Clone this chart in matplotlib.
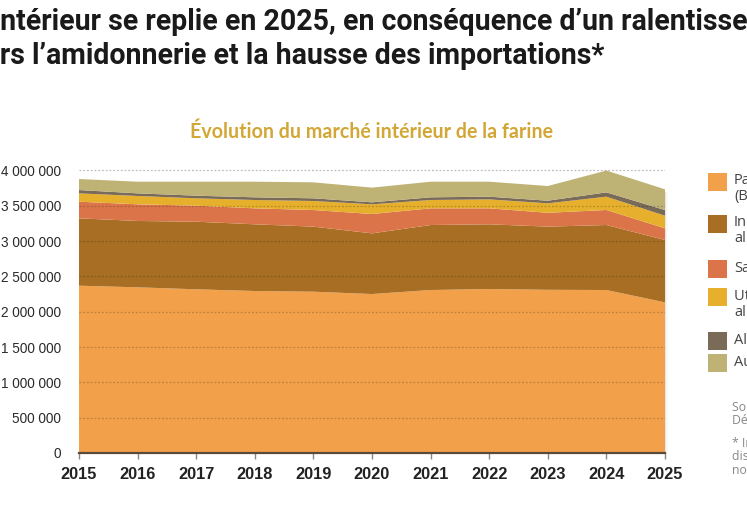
import matplotlib
matplotlib.use("Agg")
import matplotlib.pyplot as plt
from matplotlib.patches import Rectangle
from matplotlib.ticker import FuncFormatter, MultipleLocator

# ---------------- data (tonnes) ----------------
years = [2015, 2016, 2017, 2018, 2019, 2020, 2021, 2022, 2023, 2024, 2025]
panification = [2368000, 2345000, 2317000, 2293000, 2283000, 2250000, 2307000, 2321000, 2310000, 2307000, 2132000]
industries = [954000, 939000, 957000, 944000, 921000, 859000, 920000, 916000, 894000, 920000, 883000]
sachets = [235000, 236000, 227000, 226000, 235000, 274000, 236000, 226000, 196000, 213000, 165000]
non_alim = [118000, 118000, 104000, 118000, 128000, 137000, 118000, 127000, 134000, 188000, 179000]
alim_animale = [47000, 37000, 37000, 38000, 38000, 28000, 38000, 38000, 37000, 61000, 80000]
autres = [156000, 165000, 198000, 221000, 226000, 208000, 221000, 212000, 208000, 309000, 293000]

series_labels = [
    ("Panification", "(Boulangerie)"),
    ("Industries", "alimentaires"),
    ("Sachets",),
    ("Utilisations non", "alimentaires"),
    ("Alimentation animale",),
    ("Autres",),
]
colors = ["#F2A04A", "#A86F24", "#DB7549", "#E6B02C", "#7A6A58", "#BEB275"]

title_line1 = "Le marché intérieur se replie en 2025, en conséquence d\u2019un ralentissement des ventes"
title_line2 = "vers l\u2019amidonnerie et la hausse des importations*"
subtitle = "Évolution du marché intérieur de la farine"
source_lines = ["Source : FranceAgriMer", "Déclarations des meuniers"]
note_lines = ["* Importations par la", "distribution et l\u2019industrie", "non incluses"]

# ---------------- figure ----------------
W, H = 747, 513
fig = plt.figure(figsize=(W / 100, H / 100), dpi=100)
fig.patch.set_facecolor("white")

TFONT = ["Roboto", "DejaVu Sans"]
NUM = ["Liberation Sans", "DejaVu Sans"]
REG = ["Open Sans", "DejaVu Sans"]
SUB = ["Lato", "DejaVu Sans"]

ymax = 4.1e6
ax = fig.add_axes([79 / W, 60 / H, 586 / W, (282.6 * ymax / 4e6) / H])
ax.stackplot(years, panification, industries, sachets, non_alim, alim_animale, autres,
             colors=colors, linewidth=0, zorder=1)
ax.set_xlim(years[0], years[-1])
ax.set_ylim(0, ymax)

# gridlines drawn above the areas
for v in range(500000, 4000001, 500000):
    ax.plot([years[0], years[-1]], [v, v], color="black", alpha=0.2 if v < 4000000 else 0.25,
            lw=0.9, ls=(0, (1.5, 1.5)), zorder=3)

# soft shadow on right edge
totals = [sum(v) for v in zip(panification, industries, sachets, non_alim, alim_animale, autres)]
for i, a in enumerate([0.18, 0.12, 0.07, 0.03]):
    x0 = years[-1] + 0.012 * i
    ax.fill_betweenx([0, totals[-1] - 40000], x0, x0 + 0.012, color="#777777", alpha=a,
                     lw=0, clip_on=False, zorder=0)

for s in ["top", "right", "left"]:
    ax.spines[s].set_visible(False)
ax.spines["bottom"].set_color("#5a4a3a")
ax.spines["bottom"].set_linewidth(1.6)
ax.spines["bottom"].set_zorder(4)

ax.set_xticks(years)
ax.set_xticklabels([str(y) for y in years])
ax.yaxis.set_major_locator(MultipleLocator(500000))
ax.yaxis.set_major_formatter(FuncFormatter(lambda v, p: f"{int(v):,}".replace(",", " ") if v <= 4000000 else ""))
ax.tick_params(axis="x", length=4, width=1, color="#888888", pad=6, labelsize=11.8, labelcolor="#222222")
ax.tick_params(axis="y", length=0, pad=13, labelsize=9.8, labelcolor="#2a2a2a")
for lab in ax.get_xticklabels():
    lab.set_family(NUM)
    lab.set_fontweight("bold")
for lab in ax.get_yticklabels():
    lab.set_family(NUM)

# ---------------- titles (cropped at figure edges, as in the reference) ----------------
r = fig.canvas.get_renderer()


def text_width(s, size, family, weight):
    t = fig.text(0, 0, s, fontsize=size, family=family, fontweight=weight)
    w = t.get_window_extent(r).width
    t.remove()
    return w


ref = "rs l\u2019amidonnerie et la hausse des importations*"
tsize = 20 * 603 / text_width(ref, 20, TFONT, "bold")

pre1 = text_width("Le marché i", tsize, TFONT, "bold")
fig.text(-pre1 / W, 1 - 22 / H, title_line1, fontsize=tsize, family=TFONT, fontweight="bold",
         color="#1a1a1a", va="center", ha="left")
pre2 = text_width("ve", tsize, TFONT, "bold")
fig.text(-pre2 / W, 1 - 56 / H, title_line2, fontsize=tsize, family=TFONT, fontweight="bold",
         color="#1a1a1a", va="center", ha="left")

ssize = 12.5 * 363 / text_width(subtitle, 12.5, SUB, "bold")
fig.text(371 / W, 1 - 132 / H, subtitle, fontsize=ssize, family=SUB,
         fontweight="bold", color="#D2A735", ha="center", va="center")

# ---------------- legend (manual) ----------------
patch_centers = [182, 224, 269, 297, 341, 363]
line_gap = 16
for (lab, col, yc) in zip(series_labels, colors, patch_centers):
    fig.add_artist(Rectangle((708 / W, 1 - (yc + 9) / H), 19 / W, 18 / H,
                             transform=fig.transFigure, facecolor=col, edgecolor="none"))
    for k, line in enumerate(lab):
        fig.text(734 / W, 1 - (yc - 1 + k * line_gap) / H, line, fontsize=10.5, family=REG,
                 color="#444444", va="center", ha="left")

for k, line in enumerate(source_lines):
    fig.text(732 / W, 1 - (407 + k * 13) / H, line, fontsize=8.8, family=REG,
             color="#888888", va="center", ha="left")
for k, line in enumerate(note_lines):
    fig.text(732 / W, 1 - (443 + k * 13.5) / H, line, fontsize=8.8, family=REG,
             color="#888888", va="center", ha="left")

fig.savefig("out.png", dpi=100)
